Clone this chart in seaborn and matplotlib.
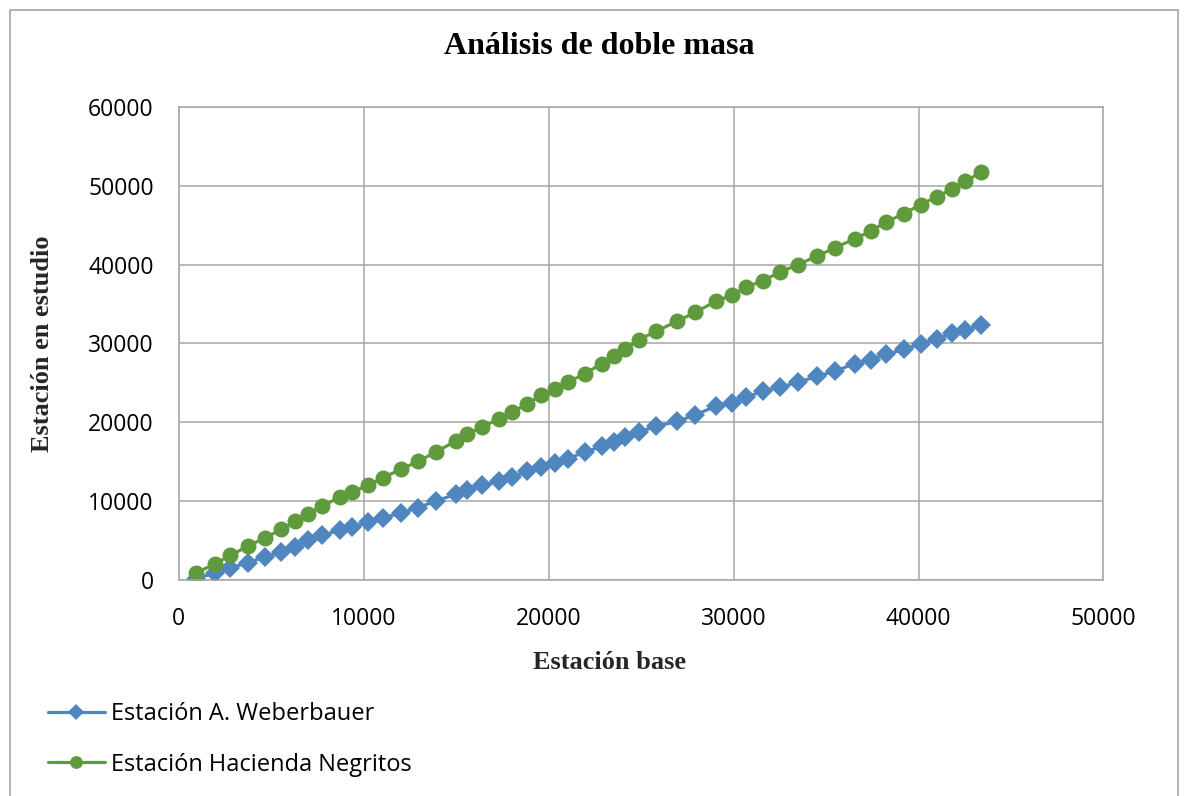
import pandas as pd
import matplotlib
matplotlib.use("Agg")
import matplotlib.pyplot as plt
import seaborn as sns
from matplotlib.patches import Rectangle

# Data (accumulated values)
estacion_base = [920, 1980, 2790, 3750, 4650, 5550, 6310, 6990, 7730, 8700, 9390, 10230,
                 11040, 12000, 12940, 13890, 14970, 15600, 16420, 17300, 18040, 18830,
                 19610, 20360, 21040, 21950, 22860, 23530, 24140, 24860, 25780, 26960,
                 27930, 29030, 29930, 30690, 31580, 32520, 33480, 34500, 35460, 36540,
                 37410, 38220, 39190, 40110, 41010, 41820, 42520, 43390]
weberbauer = [220, 920, 1560, 2240, 2950, 3580, 4220, 5060, 5700, 6330, 6750, 7340,
              7890, 8520, 9200, 10040, 10890, 11480, 12030, 12530, 13080, 13800,
              14340, 14900, 15410, 16240, 16960, 17510, 18140, 18770, 19490, 20130,
              20970, 22030, 22440, 23200, 23960, 24470, 25100, 25820, 26490, 27430,
              27940, 28610, 29240, 29960, 30590, 31300, 31770, 32280]
negritos = [920, 2110, 3160, 4340, 5350, 6460, 7470, 8440, 9370, 10540, 11180, 12030,
            13000, 14050, 15060, 16240, 17630, 18570, 19400, 20470, 21300, 22370,
            23420, 24260, 25100, 26160, 27430, 28350, 29330, 30460, 31520, 32820,
            33960, 35320, 36160, 37130, 37970, 39030, 40000, 41050, 42110, 43250,
            44220, 45350, 46420, 47590, 48610, 49580, 50540, 51680]

df = pd.DataFrame({"base": estacion_base, "weber": weberbauer, "negritos": negritos})

sns.set_theme(style="white")
plt.rcParams["font.family"] = ["Open Sans", "DejaVu Sans"]
plt.rcParams["text.color"] = "black"
plt.rcParams["xtick.color"] = "black"
plt.rcParams["ytick.color"] = "black"

fig = plt.figure(figsize=(11.84, 7.96), dpi=100)
ax = fig.add_axes([0.151, 0.271, 0.781, 0.595])

blue = "#4f86c0"
green = "#5f9b3c"
sns.lineplot(data=df, x="base", y="weber", ax=ax, color=blue, linewidth=2.3,
             marker="D", markersize=10.5, markeredgewidth=0, label="Estación A. Weberbauer")
sns.lineplot(data=df, x="base", y="negritos", ax=ax, color=green, linewidth=2.3,
             marker="o", markersize=11.5, markeredgewidth=0, label="Estación Hacienda Negritos")

ax.set_xlim(0, 50000)
ax.set_ylim(0, 60000)
ax.set_xticks(range(0, 50001, 10000))
ax.set_yticks(range(0, 60001, 10000))
ax.grid(True, color="#a6a6a6", linewidth=1.1)
for s in ax.spines.values():
    s.set_color("#a6a6a6")
    s.set_linewidth(1.1)
ax.tick_params(length=0, labelsize=16.5)
ax.tick_params(axis="x", pad=19)
ax.tick_params(axis="y", pad=18)

fig.text(599 / 1184, 1 - 47 / 796, "Análisis de doble masa", family="Liberation Serif",
         fontweight="bold", fontsize=23, ha="center", va="center")
ax.set_xlabel("Estación base", family="Liberation Serif", fontweight="bold", fontsize=19)
ax.xaxis.set_label_coords(0.466, -0.149)
ax.set_ylabel("Estación en estudio", family="Liberation Serif", fontweight="bold", fontsize=19)
ax.yaxis.set_label_coords(-0.135, 0.5)

ax.get_legend().remove()
h, l = ax.get_legend_handles_labels()
fig.legend(h, l, loc="upper left", bbox_to_anchor=(48 / 1184, 1 - 702 / 796), frameon=False,
           fontsize=17, handlelength=2.4, handletextpad=0.25, labelspacing=1.13,
           borderpad=0, borderaxespad=0, markerscale=0.8)

# outer chart border
fig.add_artist(Rectangle((10 / 1184, -0.01), 1168 / 1184, 0.997, transform=fig.transFigure,
                         fill=False, edgecolor="#a6a6a6", linewidth=1.2, clip_on=False))

fig.savefig("out.png", dpi=100, facecolor="white")
